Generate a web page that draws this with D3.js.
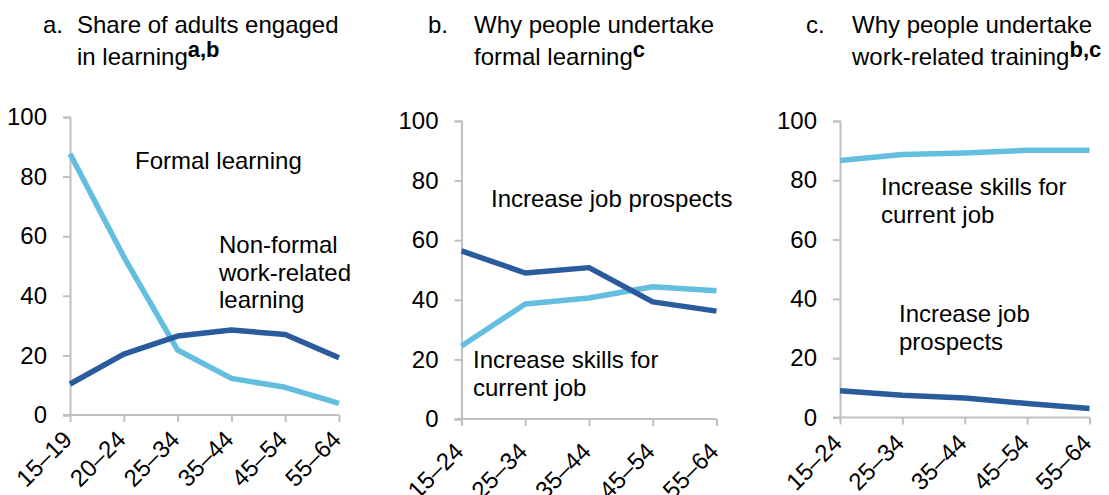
<!DOCTYPE html>
<html>
<head>
<meta charset="utf-8">
<script src="https://cdn.jsdelivr.net/npm/d3@7"></script>
<style>
  body { margin: 0; background: #fff; }
  svg { font-family: "Liberation Sans", Arial, sans-serif; }
</style>
</head>
<body>
<div id="chart-area"></div>
<script>
// data
var agesA = ["15\u201319", "20\u201324", "25\u201334", "35\u201344", "45\u201354", "55\u201364"];
var agesBC = ["15\u201324", "25\u201334", "35\u201344", "45\u201354", "55\u201364"];
var formalA = [87.7, 53.1, 21.8, 12.3, 9.3, 3.9];
var nonFormalA = [10.4, 20.4, 26.5, 28.5, 27.0, 19.2];
var jobProspectsB = [56.4, 49.0, 50.8, 39.3, 36.2];
var skillsB = [24.5, 38.6, 40.6, 44.4, 43.0];
var skillsC = [86.7, 88.7, 89.2, 90.1, 90.1];
var jobProspectsC = [9.0, 7.5, 6.6, 4.7, 3.0];
var yTicks = [0, 20, 40, 60, 80, 100];

var light = "#64bee0", dark = "#2a5b9c";

var panels = [
  { letter: "a.", title: ["Share of adults engaged", "in learning"], sup: "a,b",
    lx: 43, tx: 77, x0: 70, x1: 339, y0: 415, y1: 117, cats: agesA, labOff: 20,
    series: [{v: formalA, c: light}, {v: nonFormalA, c: dark}],
    labels: [{x: 135, y: 169, t: ["Formal learning"]},
             {x: 219, y: 253, t: ["Non-formal", "work-related", "learning"]}] },
  { letter: "b.", title: ["Why people undertake", "formal learning"], sup: "c",
    lx: 428, tx: 474, x0: 461.5, x1: 716.5, y0: 419, y1: 121, cats: agesBC, labOff: 28,
    series: [{v: skillsB, c: light}, {v: jobProspectsB, c: dark}],
    labels: [{x: 491, y: 207, t: ["Increase job prospects"]},
             {x: 473, y: 368, t: ["Increase skills for", "current job"]}] },
  { letter: "c.", title: ["Why people undertake", "work-related training"], sup: "b,c",
    lx: 806, tx: 852, x0: 840, x1: 1089.5, y0: 417.5, y1: 121, cats: agesBC, labOff: 21,
    series: [{v: skillsC, c: light}, {v: jobProspectsC, c: dark}],
    labels: [{x: 881, y: 195, t: ["Increase skills for", "current job"]},
             {x: 899, y: 322, t: ["Increase job", "prospects"]}] }
];

var svg = d3.select("#chart-area")
  .append("svg")
    .attr("width", 1109)
    .attr("height", 495);

panels.forEach(function(p) {
  var g = svg.append("g");

  // title
  g.append("text").attr("x", p.lx).attr("y", 33).attr("font-size", "24px").attr("fill", "#000").text(p.letter);
  g.append("text").attr("x", p.tx).attr("y", 33).attr("font-size", "24px").attr("fill", "#000").text(p.title[0]);
  var t2 = g.append("text").attr("x", p.tx).attr("y", 65).attr("font-size", "24px").attr("fill", "#000");
  t2.append("tspan").text(p.title[1]);
  t2.append("tspan").attr("dy", -8).attr("font-size", "22px").attr("font-weight", "bold").text(p.sup);

  var x = d3.scalePoint().domain(p.cats).range([p.x0, p.x1]);
  var y = d3.scaleLinear().domain([0, 100]).range([p.y0, p.y1]);

  // x axis
  var xAxis = g.append("g")
    .attr("transform", "translate(0," + p.y0 + ")")
    .call(d3.axisBottom(x).tickSizeOuter(0).tickSize(7));
  xAxis.select(".domain").attr("stroke", "#c0c0c0").attr("stroke-width", 2)
    .attr("d", "M" + (p.x0 - 7) + ",0H" + p.x1);
  xAxis.selectAll(".tick line").attr("stroke", "#c0c0c0").attr("stroke-width", 2);
  xAxis.selectAll("text")
    .attr("font-size", "24px")
    .attr("font-family", "Liberation Sans, Arial, sans-serif")
    .attr("fill", "#000")
    .attr("text-anchor", "end")
    .attr("x", 0)
    .attr("y", 0)
    .attr("dy", "0.35em")
    .attr("transform", "translate(-3," + p.labOff + ") rotate(-45)");

  // y axis
  var yAxis = g.append("g")
    .attr("transform", "translate(" + p.x0 + ",0)")
    .call(d3.axisLeft(y).tickValues(yTicks).tickSizeOuter(0).tickSize(7).tickPadding(16));
  yAxis.select(".domain").attr("stroke", "#c0c0c0").attr("stroke-width", 2);
  yAxis.selectAll(".tick line").attr("stroke", "#c0c0c0").attr("stroke-width", 2);
  yAxis.selectAll("text")
    .attr("font-size", "24px")
    .attr("font-family", "Liberation Sans, Arial, sans-serif")
    .attr("fill", "#000");

  // lines
  var line = d3.line()
    .x(function(d, i) { return x(p.cats[i]); })
    .y(function(d) { return y(d); });

  p.series.forEach(function(s) {
    g.append("path")
      .datum(s.v)
      .attr("fill", "none")
      .attr("stroke", s.c)
      .attr("stroke-width", 5.5)
      .attr("stroke-linejoin", "round")
      .attr("d", line);
  });

  // in-plot labels
  p.labels.forEach(function(l) {
    var txt = g.append("text").attr("font-size", "24px").attr("fill", "#000");
    l.t.forEach(function(s, i) {
      txt.append("tspan").attr("x", l.x).attr("y", l.y + i * 27.5).text(s);
    });
  });
});
</script>
</body>
</html>
